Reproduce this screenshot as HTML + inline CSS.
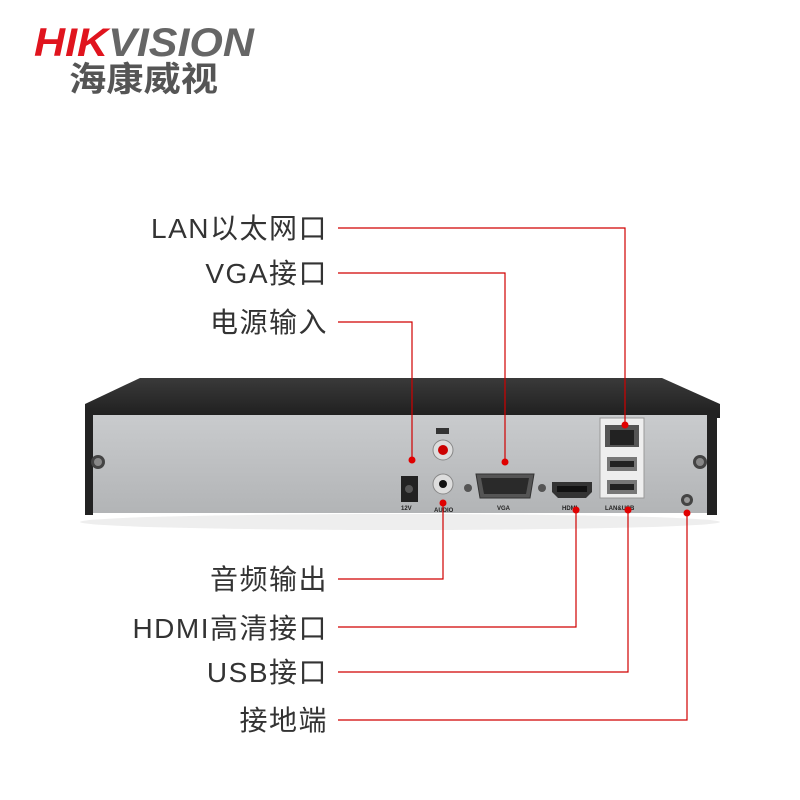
<!DOCTYPE html>
<html><head><meta charset="utf-8"><style>
body{margin:0;background:#fff;width:800px;height:800px;overflow:hidden}
svg{display:block}
.l{font-family:"Liberation Sans","Noto Sans CJK SC",sans-serif;font-size:28px;fill:#333;text-anchor:end;letter-spacing:1.5px}
.s{font-family:"Liberation Sans",sans-serif;font-size:6px;font-weight:bold;fill:#222}
</style></head><body>
<svg width="800" height="800" viewBox="0 0 800 800">
<defs>
<linearGradient id="top" x1="0" y1="0" x2="0" y2="1"><stop offset="0" stop-color="#3a3a3a"/><stop offset="1" stop-color="#1e1e1e"/></linearGradient>
<linearGradient id="pan" x1="0" y1="0" x2="0" y2="1"><stop offset="0" stop-color="#c9cbcd"/><stop offset="1" stop-color="#b2b4b6"/></linearGradient>
</defs>
<text x="34" y="56" font-family="Liberation Sans,sans-serif" font-weight="bold" font-style="italic" font-size="40" fill="#e0141e" textLength="220" lengthAdjust="spacingAndGlyphs">HIK<tspan fill="#666">VISION</tspan></text>
<text x="69" y="91" font-family="Liberation Sans,'Noto Sans CJK SC',sans-serif" font-weight="bold" font-size="34" fill="#555" textLength="149" lengthAdjust="spacingAndGlyphs">海康威视</text>
<ellipse cx="400" cy="522" rx="320" ry="8" fill="#eee"/>
<polygon points="140,378 662,378 720,404 720,418 85,418 85,404" fill="url(#top)"/>
<rect x="85" y="410" width="8" height="105" fill="#222"/>
<rect x="707" y="410" width="10" height="105" fill="#222"/>
<rect x="93" y="415" width="614" height="98" fill="url(#pan)"/>
<circle cx="98" cy="462" r="7" fill="#444"/><circle cx="98" cy="462" r="4" fill="#888"/>
<circle cx="700" cy="462" r="7" fill="#444"/><circle cx="700" cy="462" r="4" fill="#888"/>
<rect x="401" y="476" width="17" height="26" fill="#222"/><circle cx="409" cy="489" r="4" fill="#555"/>
<text x="401" y="510" class="s">12V</text>
<rect x="436" y="428" width="13" height="6" fill="#333"/>
<circle cx="443" cy="450" r="10" fill="#ddd" stroke="#888"/><circle cx="443" cy="450" r="5" fill="#c00"/>
<circle cx="443" cy="484" r="10" fill="#ddd" stroke="#888"/><circle cx="443" cy="484" r="4" fill="#111"/>
<text x="434" y="512" class="s">AUDIO</text>
<circle cx="468" cy="488" r="4" fill="#555"/><circle cx="542" cy="488" r="4" fill="#555"/>
<path d="M476,474 H534 L530,498 H480 Z" fill="#555" stroke="#333"/>
<path d="M481,478 H529 L526,494 H484 Z" fill="#2a2a2a"/>
<text x="497" y="510" class="s">VGA</text>
<path d="M552,482 H592 V492 L586,498 H558 L552,492 Z" fill="#333"/>
<rect x="557" y="486" width="30" height="6" fill="#111"/>
<text x="562" y="510" class="s">HDMI</text>
<rect x="600" y="418" width="44" height="80" fill="#eee" stroke="#999"/>
<rect x="605" y="425" width="34" height="22" fill="#555"/>
<rect x="610" y="430" width="24" height="15" fill="#222"/>
<rect x="607" y="457" width="30" height="14" fill="#777"/><rect x="610" y="461" width="24" height="6" fill="#222"/>
<rect x="607" y="480" width="30" height="14" fill="#777"/><rect x="610" y="484" width="24" height="6" fill="#222"/>
<text x="605" y="510" class="s">LAN&amp;USB</text>
<circle cx="687" cy="500" r="6" fill="#444"/><circle cx="687" cy="500" r="3" fill="#999"/>
<g fill="none" stroke="#d00000" stroke-width="1.2">
<polyline points="338,228 625,228 625,425"/>
<polyline points="338,273 505,273 505,462"/>
<polyline points="338,322 412,322 412,460"/>
<polyline points="443,503 443,579 338,579"/>
<polyline points="576,510 576,627 338,627"/>
<polyline points="628,510 628,672 338,672"/>
<polyline points="687,513 687,720 338,720"/>
</g>
<g fill="#e00000">
<circle cx="625" cy="425" r="3.5"/><circle cx="505" cy="462" r="3.5"/><circle cx="412" cy="460" r="3.5"/>
<circle cx="443" cy="503" r="3.5"/><circle cx="576" cy="510" r="3.5"/><circle cx="628" cy="510" r="3.5"/><circle cx="687" cy="513" r="3.5"/>
</g>
<text class="l" x="328" y="238">LAN以太网口</text>
<text class="l" x="328" y="283">VGA接口</text>
<text class="l" x="328" y="332">电源输入</text>
<text class="l" x="328" y="589">音频输出</text>
<text class="l" x="328" y="638">HDMI高清接口</text>
<text class="l" x="328" y="682">USB接口</text>
<text class="l" x="328" y="730">接地端</text>
</svg>
</body></html>
